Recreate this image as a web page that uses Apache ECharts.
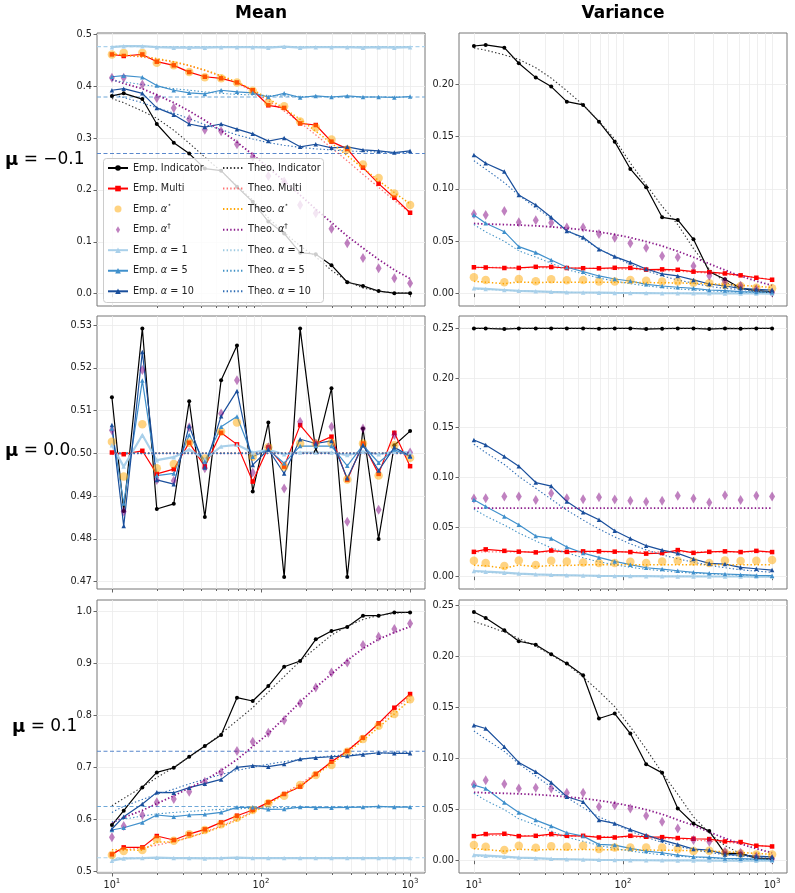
<!DOCTYPE html>
<html><head><meta charset="utf-8">
<script src="https://cdn.jsdelivr.net/npm/echarts@6/dist/echarts.min.js"></script>
<style>html,body{margin:0;padding:0;background:#fff}#c{width:795px;height:893px}</style>
</head><body><div id="c"></div><script>
// ---------------- data ----------------
const N = [10,12,16,20,26,33,42,54,69,88,112,143,183,233,297,379,483,615,784,1000];
const xMajorTicks = [10,100,1000];
const xMinorTicks = [20,30,40,50,60,70,80,90,200,300,400,500,600,700,800,900];
const tlYTicks = [0,0.1,0.2,0.3,0.4,0.5];
const trYTicks = [0,0.05,0.10,0.15,0.20];
const mlYTicks = [0.47,0.48,0.49,0.50,0.51,0.52,0.53];
const mrYTicks = [0,0.05,0.10,0.15,0.20,0.25];
const blYTicks = [0.5,0.6,0.7,0.8,0.9,1.0];
const brYTicks = [0,0.05,0.10,0.15,0.20,0.25];

// mu = -0.1, mean
const tlEmpInd  = [0.381,0.386,0.375,0.327,0.291,0.270,0.241,0.237,0.206,0.177,0.139,0.116,0.079,0.076,0.055,0.022,0.015,0.005,0.001,0.001];
const tlTheoInd = [0.376,0.368,0.352,0.338,0.315,0.290,0.263,0.236,0.208,0.180,0.146,0.118,0.092,0.071,0.045,0.024,0.011,0.005,0.002,0.001];
const tlEmpMulti  = [0.461,0.458,0.461,0.447,0.440,0.427,0.418,0.415,0.407,0.392,0.363,0.358,0.328,0.325,0.293,0.279,0.243,0.212,0.185,0.156];
const tlTheoMulti = [0.461,0.459,0.456,0.452,0.446,0.439,0.430,0.419,0.406,0.390,0.372,0.352,0.330,0.306,0.281,0.256,0.230,0.205,0.180,0.156];
const tlEmpStar  = [0.461,0.464,0.464,0.445,0.440,0.427,0.417,0.415,0.407,0.391,0.368,0.361,0.332,0.320,0.297,0.278,0.249,0.223,0.193,0.171];
const tlTheoStar = [0.462,0.460,0.457,0.453,0.447,0.440,0.431,0.420,0.408,0.393,0.376,0.357,0.336,0.313,0.290,0.266,0.242,0.218,0.195,0.173];
const tlEmpDag  = [0.416,0.416,0.403,0.377,0.358,0.336,0.316,0.313,0.288,0.264,0.227,0.216,0.171,0.155,0.125,0.097,0.069,0.049,0.030,0.020];
const tlTheoDag = [0.413,0.405,0.395,0.383,0.368,0.352,0.334,0.314,0.292,0.268,0.243,0.217,0.190,0.163,0.137,0.111,0.088,0.066,0.046,0.029];
const tlEmpA1  = [0.475,0.477,0.477,0.475,0.474,0.474,0.474,0.475,0.475,0.475,0.474,0.476,0.474,0.475,0.475,0.475,0.474,0.475,0.474,0.475];
const tlTheoA1 = [0.4765,0.4765,0.4764,0.4763,0.4763,0.4762,0.4762,0.4762,0.4762,0.4762,0.4762,0.4762,0.4762,0.4762,0.4762,0.4762,0.4762,0.4762,0.4762,0.4762];
const tlEmpA5  = [0.418,0.420,0.417,0.401,0.392,0.387,0.385,0.392,0.389,0.387,0.379,0.386,0.378,0.381,0.379,0.381,0.379,0.379,0.378,0.380];
const tlTheoA5 = [0.411,0.408,0.403,0.399,0.395,0.392,0.389,0.386,0.384,0.383,0.382,0.381,0.380,0.380,0.3795,0.379,0.379,0.379,0.379,0.379];
const tlEmpA10  = [0.392,0.395,0.386,0.358,0.345,0.327,0.321,0.327,0.317,0.308,0.294,0.300,0.283,0.288,0.281,0.283,0.277,0.275,0.272,0.275];
const tlTheoA10 = [0.385,0.378,0.368,0.358,0.348,0.337,0.326,0.316,0.306,0.298,0.291,0.286,0.282,0.279,0.277,0.275,0.274,0.273,0.272,0.272];
const tlAsym = [0.476,0.379,0.270];

// mu = -0.1, variance
const trEmpInd  = [0.2366,0.2376,0.2350,0.2201,0.2064,0.1978,0.1834,0.1803,0.1643,0.1452,0.1191,0.1016,0.0729,0.0704,0.0519,0.0210,0.0137,0.0051,0.0029,0.0019];
const trTheoInd = [0.2346,0.2326,0.2281,0.2238,0.2158,0.2059,0.1938,0.1803,0.1647,0.1476,0.1247,0.1041,0.0835,0.0660,0.0430,0.0234,0.0109,0.0050,0.0020,0.0010];
const trEmpMulti  = [0.0252,0.0250,0.0245,0.0246,0.0256,0.0255,0.0245,0.0243,0.0242,0.0247,0.0246,0.0230,0.0232,0.0228,0.0210,0.0205,0.0193,0.0175,0.0152,0.0133];
const trTheoMulti = [0.0250,0.0250,0.0250,0.0249,0.0248,0.0247,0.0245,0.0243,0.0240,0.0237,0.0233,0.0228,0.0222,0.0215,0.0206,0.0196,0.0184,0.0170,0.0153,0.0135];
const trEmpStar  = [0.0156,0.0131,0.0108,0.0140,0.0118,0.0137,0.0127,0.0131,0.0115,0.0115,0.0131,0.0124,0.0115,0.0115,0.0105,0.0099,0.0083,0.0073,0.0057,0.0051];
const trTheoStar = [0.0118,0.0110,0.0095,0.0112,0.0105,0.0110,0.0108,0.0110,0.0108,0.0108,0.0107,0.0106,0.0104,0.0102,0.0099,0.0094,0.0088,0.0080,0.0070,0.0060];
const trEmpDag  = [0.0761,0.0752,0.0790,0.0682,0.0701,0.0678,0.0631,0.0631,0.0570,0.0535,0.0481,0.0439,0.0360,0.0347,0.0264,0.0172,0.0115,0.0076,0.0041,0.0010];
const trTheoDag = [0.0670,0.0665,0.0660,0.0655,0.0648,0.0638,0.0625,0.0610,0.0590,0.0565,0.0535,0.0498,0.0455,0.0405,0.0348,0.0285,0.0225,0.0168,0.0120,0.0078];
const trEmpA1  = [0.0051,0.0045,0.0035,0.0027,0.0022,0.0017,0.0013,0.0011,0.0009,0.0007,0.0006,0.0005,0.0004,0.0004,0.0003,0.0003,0.0002,0.0002,0.0002,0.0001];
const trTheoA1 = [0.0045,0.0040,0.0032,0.0026,0.0021,0.0016,0.0013,0.0010,0.0008,0.0006,0.0005,0.0004,0.0003,0.0003,0.0002,0.0002,0.0002,0.0001,0.0001,0.0001];
const trEmpA5  = [0.0752,0.0672,0.0592,0.0449,0.0392,0.0322,0.0252,0.0210,0.0169,0.0140,0.0121,0.0089,0.0073,0.0061,0.0051,0.0035,0.0029,0.0019,0.0016,0.0013];
const trTheoA5 = [0.0660,0.0590,0.0500,0.0410,0.0350,0.0290,0.0230,0.0190,0.0150,0.0120,0.0095,0.0075,0.0058,0.0045,0.0035,0.0027,0.0020,0.0015,0.0012,0.0010];
const trEmpA10  = [0.1325,0.1245,0.1166,0.0943,0.0847,0.0729,0.0599,0.0538,0.0424,0.0354,0.0299,0.0236,0.0188,0.0169,0.0131,0.0092,0.0073,0.0051,0.0041,0.0035];
const trTheoA10 = [0.127,0.119,0.106,0.094,0.082,0.072,0.061,0.052,0.043,0.035,0.028,0.022,0.017,0.013,0.010,0.007,0.005,0.004,0.003,0.002];

// mu = 0.0, mean
const mlEmpInd   = [0.5131,0.4865,0.5292,0.4870,0.4882,0.5122,0.4851,0.5171,0.5252,0.4911,0.5072,0.4711,0.5292,0.5004,0.5152,0.4711,0.5058,0.4800,0.5019,0.5052];
const mlEmpMulti = [0.5002,0.4998,0.5006,0.4952,0.4963,0.5025,0.4969,0.5048,0.5021,0.4934,0.5014,0.4969,0.5066,0.5023,0.5039,0.4938,0.5023,0.4952,0.5048,0.4970];
const mlEmpStar  = [0.5027,0.4946,0.5068,0.4965,0.4975,0.5025,0.4988,0.5051,0.5072,0.4992,0.5014,0.4969,0.5023,0.5023,0.5025,0.4939,0.5023,0.4948,0.5019,0.4990];
const mlEmpDag   = [0.5054,0.4864,0.5195,0.4938,0.4936,0.5061,0.4965,0.5093,0.5171,0.4955,0.5014,0.4918,0.5074,0.5023,0.5062,0.4840,0.5058,0.4868,0.5043,0.5002];
const mlEmpA1    = [0.5019,0.4969,0.5043,0.4984,0.4991,0.5009,0.4986,0.5016,0.5020,0.5002,0.5008,0.4998,0.5002,0.5002,0.5002,0.4996,0.5004,0.4998,0.5004,0.5002];
const mlEmpA5    = [0.5058,0.4883,0.5170,0.4948,0.4953,0.5043,0.4981,0.5062,0.5086,0.4992,0.5009,0.4977,0.5017,0.5017,0.5017,0.4971,0.5019,0.4978,0.5009,0.4992];
const mlEmpA10   = [0.5066,0.4830,0.5237,0.4938,0.4928,0.5064,0.4967,0.5087,0.5146,0.4973,0.5009,0.4953,0.5033,0.5023,0.5029,0.4942,0.5019,0.4960,0.5014,0.4994];
const mlTheoAll  = [0.5,0.5,0.5,0.5,0.5,0.5,0.5,0.5,0.5,0.5,0.5,0.5,0.5,0.5,0.5,0.5,0.5,0.5,0.5,0.5];

// mu = 0.0, variance
const mrEmpInd  = [0.2500,0.2500,0.2493,0.2500,0.2500,0.2500,0.2500,0.2500,0.2497,0.2500,0.2500,0.2493,0.2497,0.2500,0.2500,0.2493,0.2500,0.2497,0.2500,0.2500];
const mrTheoInd = [0.25,0.25,0.25,0.25,0.25,0.25,0.25,0.25,0.25,0.25,0.25,0.25,0.25,0.25,0.25,0.25,0.25,0.25,0.25,0.25];
const mrEmpMulti  = [0.0250,0.0275,0.0260,0.0252,0.0245,0.0263,0.0250,0.0255,0.0255,0.0252,0.0248,0.0232,0.0238,0.0268,0.0240,0.0250,0.0255,0.0248,0.0260,0.0248];
const mrTheoMulti = [0.025,0.025,0.025,0.025,0.025,0.025,0.025,0.025,0.025,0.025,0.025,0.025,0.025,0.025,0.025,0.025,0.025,0.025,0.025,0.025];
const mrEmpStar  = [0.0161,0.0137,0.0107,0.0164,0.0117,0.0161,0.0154,0.0144,0.0137,0.0137,0.0151,0.0137,0.0154,0.0161,0.0154,0.0137,0.0164,0.0158,0.0161,0.0168];
const mrTheoStar = [0.0115,0.0110,0.0085,0.0118,0.0102,0.0112,0.0112,0.0120,0.0120,0.0120,0.0120,0.0120,0.0120,0.0120,0.0120,0.0120,0.0120,0.0120,0.0120,0.0120];
const mrEmpDag  = [0.0788,0.0791,0.0808,0.0808,0.0771,0.0841,0.0791,0.0781,0.0801,0.0777,0.0764,0.0754,0.0764,0.0814,0.0788,0.0747,0.0821,0.0771,0.0814,0.0808];
const mrTheoDag = [0.069,0.069,0.069,0.069,0.069,0.069,0.069,0.069,0.069,0.069,0.069,0.069,0.069,0.069,0.069,0.069,0.069,0.069,0.069,0.069];
const mrEmpA1  = [0.0057,0.0050,0.0040,0.0031,0.0024,0.0019,0.0015,0.0012,0.0009,0.0007,0.0006,0.0005,0.0004,0.0003,0.0003,0.0002,0.0002,0.0002,0.0001,0.0001];
const mrTheoA1 = [0.0050,0.0044,0.0035,0.0028,0.0022,0.0017,0.0013,0.0010,0.0008,0.0006,0.0005,0.0004,0.0003,0.0003,0.0002,0.0002,0.0002,0.0001,0.0001,0.0001];
const mrEmpA5  = [0.0774,0.0707,0.0607,0.0523,0.0409,0.0385,0.0298,0.0238,0.0194,0.0154,0.0121,0.0090,0.0077,0.0060,0.0044,0.0034,0.0027,0.0020,0.0013,0.0010];
const mrTheoA5 = [0.068,0.061,0.052,0.044,0.036,0.029,0.024,0.019,0.015,0.012,0.0095,0.0075,0.0059,0.0046,0.0036,0.0028,0.0022,0.0017,0.0013,0.0010];
const mrEmpA10  = [0.1377,0.1327,0.1210,0.1113,0.0948,0.0912,0.0757,0.0650,0.0573,0.0462,0.0385,0.0312,0.0268,0.0235,0.0178,0.0134,0.0127,0.0094,0.0080,0.0067];
const mrTheoA10 = [0.1334,0.125,0.113,0.101,0.089,0.078,0.067,0.057,0.048,0.040,0.033,0.027,0.022,0.018,0.0145,0.0115,0.009,0.007,0.0055,0.0045];

// mu = 0.1, mean
const blEmpInd  = [0.5887,0.6163,0.6613,0.6902,0.6992,0.7204,0.7410,0.7622,0.8342,0.8278,0.8567,0.8940,0.9049,0.9467,0.9627,0.9704,0.9923,0.9923,0.9987,0.9987];
const blTheoInd = [0.626,0.640,0.662,0.680,0.700,0.720,0.740,0.765,0.790,0.815,0.845,0.875,0.905,0.930,0.955,0.972,0.985,0.993,0.997,0.999];
const blEmpMulti  = [0.5321,0.5456,0.5456,0.5675,0.5598,0.5713,0.5803,0.5938,0.6067,0.6176,0.6324,0.6485,0.6626,0.6870,0.7108,0.7314,0.7571,0.7847,0.8149,0.8413];
const blTheoMulti = [0.536,0.540,0.545,0.550,0.557,0.565,0.575,0.587,0.600,0.615,0.632,0.650,0.668,0.688,0.710,0.733,0.757,0.783,0.810,0.838];
const blEmpStar  = [0.5308,0.5386,0.5405,0.5611,0.5585,0.5707,0.5791,0.5900,0.6028,0.6176,0.6305,0.6452,0.6658,0.6851,0.7044,0.7301,0.7545,0.7802,0.8027,0.8310];
const blTheoStar = [0.541,0.541,0.540,0.556,0.556,0.565,0.574,0.585,0.598,0.613,0.629,0.647,0.665,0.685,0.707,0.729,0.752,0.777,0.803,0.830];
const blEmpDag  = [0.5649,0.5868,0.6080,0.6324,0.6388,0.6530,0.6722,0.6902,0.7314,0.7494,0.7667,0.7905,0.8233,0.8541,0.8830,0.9023,0.9357,0.9518,0.9666,0.9775];
const blTheoDag = [0.593,0.603,0.617,0.630,0.645,0.660,0.675,0.694,0.715,0.740,0.765,0.795,0.826,0.854,0.880,0.906,0.929,0.947,0.960,0.971];
const blEmpA1  = [0.5200,0.5244,0.5250,0.5257,0.5250,0.5250,0.5244,0.5250,0.5257,0.5250,0.5250,0.5250,0.5250,0.5250,0.5250,0.5250,0.5250,0.5250,0.5250,0.5250];
const blTheoA1 = [0.5235,0.5238,0.5242,0.5245,0.5247,0.5248,0.5249,0.5250,0.5250,0.5250,0.5250,0.5250,0.5250,0.5250,0.5250,0.5250,0.5250,0.5250,0.5250,0.5250];
const blEmpA5  = [0.5791,0.5835,0.5938,0.6080,0.6048,0.6080,0.6093,0.6131,0.6228,0.6228,0.6189,0.6195,0.6234,0.6221,0.6221,0.6228,0.6234,0.6247,0.6234,0.6234];
const blTheoA5 = [0.595,0.600,0.606,0.610,0.613,0.615,0.617,0.619,0.620,0.621,0.622,0.6225,0.623,0.623,0.623,0.6235,0.6235,0.624,0.624,0.624];
const blEmpA10  = [0.5810,0.6048,0.6292,0.6517,0.6510,0.6607,0.6684,0.6767,0.6999,0.7031,0.7012,0.7063,0.7159,0.7185,0.7204,0.7217,0.7249,0.7281,0.7269,0.7269];
const blTheoA10 = [0.613,0.625,0.638,0.648,0.658,0.668,0.677,0.686,0.694,0.700,0.706,0.711,0.715,0.719,0.722,0.724,0.726,0.727,0.728,0.729];
const blAsym = [0.5255,0.6245,0.731];

// mu = 0.1, variance
const brEmpInd  = [0.2435,0.2376,0.2256,0.2148,0.2115,0.2021,0.1930,0.1815,0.1392,0.1441,0.1245,0.0945,0.0860,0.0512,0.0365,0.0290,0.0072,0.0072,0.0026,0.0023];
const brTheoInd = [0.2341,0.2304,0.2238,0.2176,0.2100,0.2016,0.1924,0.1798,0.1659,0.1508,0.1310,0.1094,0.0860,0.0651,0.0430,0.0272,0.0148,0.0070,0.0030,0.0010];
const brEmpMulti  = [0.0241,0.0261,0.0264,0.0241,0.0244,0.0261,0.0244,0.0244,0.0228,0.0228,0.0244,0.0235,0.0231,0.0222,0.0215,0.0212,0.0189,0.0183,0.0147,0.0140];
const brTheoMulti = [0.0248,0.0248,0.0247,0.0246,0.0245,0.0244,0.0242,0.0240,0.0237,0.0234,0.0230,0.0225,0.0219,0.0212,0.0203,0.0193,0.0181,0.0167,0.0152,0.0135];
const brEmpStar  = [0.0153,0.0137,0.0104,0.0147,0.0127,0.0143,0.0137,0.0147,0.0114,0.0130,0.0130,0.0130,0.0130,0.0114,0.0095,0.0098,0.0078,0.0072,0.0062,0.0062];
const brTheoStar = [0.0118,0.0110,0.0093,0.0112,0.0106,0.0110,0.0108,0.0110,0.0108,0.0107,0.0106,0.0105,0.0103,0.0101,0.0098,0.0094,0.0088,0.0081,0.0072,0.0063];
const brEmpDag  = [0.0746,0.0789,0.0750,0.0707,0.0714,0.0707,0.0665,0.0665,0.0528,0.0544,0.0512,0.0440,0.0381,0.0316,0.0202,0.0186,0.0088,0.0078,0.0039,0.0016];
const brTheoDag = [0.0670,0.0665,0.0660,0.0655,0.0648,0.0638,0.0625,0.0610,0.0590,0.0565,0.0535,0.0500,0.0455,0.0400,0.0345,0.0280,0.0220,0.0165,0.0118,0.0078];
const brEmpA1  = [0.0055,0.0050,0.0040,0.0031,0.0025,0.0019,0.0015,0.0012,0.0009,0.0007,0.0006,0.0005,0.0004,0.0003,0.0003,0.0002,0.0002,0.0002,0.0001,0.0001];
const brTheoA1 = [0.0045,0.0040,0.0032,0.0026,0.0021,0.0016,0.0013,0.0010,0.0008,0.0006,0.0005,0.0004,0.0003,0.0003,0.0002,0.0002,0.0002,0.0001,0.0001,0.0001];
const brEmpA5  = [0.0740,0.0707,0.0570,0.0473,0.0398,0.0339,0.0274,0.0241,0.0160,0.0153,0.0121,0.0095,0.0078,0.0055,0.0039,0.0033,0.0023,0.0020,0.0016,0.0013];
const brTheoA5 = [0.0660,0.0590,0.0500,0.0410,0.0350,0.0290,0.0230,0.0190,0.0150,0.0120,0.0095,0.0075,0.0058,0.0045,0.0035,0.0027,0.0020,0.0015,0.0012,0.0010];
const brEmpA10  = [0.1327,0.1294,0.1115,0.0962,0.0870,0.0766,0.0626,0.0577,0.0398,0.0365,0.0306,0.0251,0.0202,0.0160,0.0114,0.0104,0.0062,0.0055,0.0046,0.0039];
const brTheoA10 = [0.127,0.119,0.107,0.095,0.083,0.072,0.062,0.052,0.043,0.036,0.029,0.023,0.018,0.014,0.011,0.008,0.006,0.0045,0.0035,0.0025];

// ---------------- styling / layout ----------------
const FONT = 'DejaVu Sans';
const methods = [
  {emp:'Emp. Indicator', theo:'Theo. Indicator', kind:'line', color:'#000000', symbol:'circle', size:4, lw:1.2, tc:'#333333', tw:1.1},
  {emp:'Emp. Multi', theo:'Theo. Multi', kind:'line', color:'#ff0000', symbol:'rect', size:4.5, lw:1.2, tc:'rgba(255,0,0,0.55)', tw:1.3},
  {emp:'Emp. α⋆', theo:'Theo. α⋆', kind:'scatter', color:'rgba(255,165,0,0.62)', symbol:'circle', size:8.5, tc:'#ffa500', tw:1.5},
  {emp:'Emp. α†', theo:'Theo. α†', kind:'scatter', color:'rgba(128,0,128,0.62)', symbol:'diamond', size:[6,10], tc:'#8b1a8b', tw:1.8,
   legendIcon:'path://M3,0L6,5L3,10L0,5Z'},
  {emp:'Emp. α = 1', theo:'Theo. α = 1', kind:'line', color:'#a9d0ea', symbol:'triangle', size:4.5, lw:2.2, tc:'#9ecae1', tw:1.1},
  {emp:'Emp. α = 5', theo:'Theo. α = 5', kind:'line', color:'#4090cc', symbol:'triangle', size:4.5, lw:1.2, tc:'#4292c6', tw:1.1},
  {emp:'Emp. α = 10', theo:'Theo. α = 10', kind:'line', color:'#1a4f9c', symbol:'triangle', size:4.5, lw:1.2, tc:'#2f6db5', tw:1.1}
];
const asymColors = ['#acd2ec','#6fa8d8','#5a88cc'];

const panels = [
  {row:0,col:0,min:-0.0237,max:0.5023,ticks:tlYTicks,dec:1,
   emp:[tlEmpInd,tlEmpMulti,tlEmpStar,tlEmpDag,tlEmpA1,tlEmpA5,tlEmpA10],
   theo:[tlTheoInd,tlTheoMulti,tlTheoStar,tlTheoDag,tlTheoA1,tlTheoA5,tlTheoA10],asym:tlAsym},
  {row:0,col:1,min:-0.0118,max:0.249,ticks:trYTicks,dec:2,
   emp:[trEmpInd,trEmpMulti,trEmpStar,trEmpDag,trEmpA1,trEmpA5,trEmpA10],
   theo:[trTheoInd,trTheoMulti,trTheoStar,trTheoDag,trTheoA1,trTheoA5,trTheoA10]},
  {row:1,col:0,min:0.4683,max:0.5321,ticks:mlYTicks,dec:2,
   emp:[mlEmpInd,mlEmpMulti,mlEmpStar,mlEmpDag,mlEmpA1,mlEmpA5,mlEmpA10],
   theo:[mlTheoAll,mlTheoAll,mlTheoAll,mlTheoAll,mlTheoAll,mlTheoAll,mlTheoAll]},
  {row:1,col:1,min:-0.0124,max:0.2625,ticks:mrYTicks,dec:2,
   emp:[mrEmpInd,mrEmpMulti,mrEmpStar,mrEmpDag,mrEmpA1,mrEmpA5,mrEmpA10],
   theo:[mrTheoInd,mrTheoMulti,mrTheoStar,mrTheoDag,mrTheoA1,mrTheoA5,mrTheoA10]},
  {row:2,col:0,min:0.4962,max:1.0226,ticks:blYTicks,dec:1,
   emp:[blEmpInd,blEmpMulti,blEmpStar,blEmpDag,blEmpA1,blEmpA5,blEmpA10],
   theo:[blTheoInd,blTheoMulti,blTheoStar,blTheoDag,blTheoA1,blTheoA5,blTheoA10],asym:blAsym},
  {row:2,col:1,min:-0.012,max:0.2552,ticks:brYTicks,dec:2,
   emp:[brEmpInd,brEmpMulti,brEmpStar,brEmpDag,brEmpA1,brEmpA5,brEmpA10],
   theo:[brTheoInd,brTheoMulti,brTheoStar,brTheoDag,brTheoA1,brTheoA5,brTheoA10]}
];

const gridLefts = [97, 459], gridTops = [33, 316, 600], GW = 328, GH = 273;
const XMIN = 0.9, XMAX = 3.1;
const gridLine = {show:true, lineStyle:{color:'#ebebeb', width:0.8}};
const tickCol = '#666';

const grids = [], xAxes = [], yAxes = [], series = [];
panels.forEach((p, g) => {
  grids.push({left:gridLefts[p.col], top:gridTops[p.row], width:GW, height:GH,
    show:true, borderColor:'#777', borderWidth:1, backgroundColor:'rgba(0,0,0,0)'});
  const bottom = p.row === 2;
  xAxes.push({gridIndex:g, type:'value', position:'bottom', min:XMIN, max:XMAX,
    axisLine:{show:false},
    axisTick:{show:true, length:3.5, lineStyle:{color:tickCol}, customValues:xMajorTicks.map(Math.log10)},
    axisLabel:{show:bottom, customValues:xMajorTicks.map(Math.log10), fontFamily:FONT, fontSize:9.7, color:'#222', margin:5,
      formatter:v => '10{s|' + Math.round(v) + '}',
      rich:{s:{fontSize:7, fontFamily:FONT, color:'#222', verticalAlign:'top', lineHeight:14}}},
    splitLine:gridLine});
  xAxes.push({gridIndex:g, type:'value', position:'bottom', min:XMIN, max:XMAX,
    axisLine:{show:false},
    axisTick:{show:true, length:2, lineStyle:{color:tickCol}, customValues:xMinorTicks.map(Math.log10)},
    axisLabel:{show:false, customValues:xMinorTicks.map(Math.log10)},
    splitLine:gridLine});
  yAxes.push({gridIndex:g, type:'value', min:p.min, max:p.max,
    axisLine:{show:false},
    axisTick:{show:true, length:3.5, lineStyle:{color:tickCol}, customValues:p.ticks},
    axisLabel:{customValues:p.ticks, fontFamily:FONT, fontSize:9.7, color:'#222', margin:5,
      formatter:v => v.toFixed(p.dec)},
    splitLine:gridLine});
  const xi = 2 * g;
  // asymptotes: dashed horizontal reference lines spanning the full x range of the axis
  if (p.asym) {
    p.asym.forEach((v, j) => {
      const c = asymColors[j];
      series.push({type:'line', xAxisIndex:xi, yAxisIndex:g, silent:true, color:c,
        data:[[XMIN, v], [XMAX, v]], symbol:'none', emphasis:{disabled:true}, z:1,
        itemStyle:{color:c}, lineStyle:{color:c, width:1.1, type:[4, 2.5]}});
    });
  }
  methods.forEach((m, k) => {
    const arr = p.emp[k];
    const s = {name:m.emp, type:m.kind, xAxisIndex:xi, yAxisIndex:g, silent:true, color:m.color,
      data:N.map((n, i) => [Math.log10(n), arr[i]]),
      symbol:m.symbol, symbolSize:m.size, itemStyle:{color:m.color}, emphasis:{disabled:true}, z:2};
    if (m.kind === 'line') {
      s.lineStyle = {color:m.color, width:m.lw};
      s.showSymbol = true;
    }
    series.push(s);
  });
  methods.forEach((m, k) => {
    const arr = p.theo[k];
    const s = {name:m.theo, type:'line', xAxisIndex:xi, yAxisIndex:g, silent:true, color:m.tc,
      data:N.map((n, i) => [Math.log10(n), arr[i]]),
      symbol:'none', itemStyle:{color:m.tc}, emphasis:{disabled:true}, z:2,
      lineStyle:{color:m.tc, width:m.tw, type:[1.4, 2.2]}};
    series.push(s);
  });
});

function fmtName(n) {
  return n.replace('α⋆', '{i|α}{s|⋆}').replace('α†', '{i|α}{s|†}').replace(/α = (\d+)/, '{i|α} = $1');
}
const legendRich = {
  i:{fontStyle:'italic', fontFamily:FONT, fontSize:9.7, color:'#222', lineHeight:14},
  s:{fontFamily:FONT, fontSize:7, color:'#222', lineHeight:14, verticalAlign:'top'}
};
const legendBase = {orient:'vertical', top:161, itemWidth:20, itemHeight:7, itemGap:6.55, padding:0,
  selectedMode:false, formatter:fmtName, z:6,
  textStyle:{fontFamily:FONT, fontSize:9.7, color:'#222', lineHeight:14, rich:legendRich}};

const option = {
  animation:false,
  backgroundColor:'#ffffff',
  grid:grids, xAxis:xAxes, yAxis:yAxes, series:series,
  legend:[
    Object.assign({}, legendBase, {left:107, data:methods.map(m => m.legendIcon ? {name:m.emp, icon:m.legendIcon} : {name:m.emp})}),
    Object.assign({}, legendBase, {left:222, data:methods.map(m => ({name:m.theo, itemStyle:{color:'rgba(0,0,0,0)', borderWidth:0}}))})
  ],
  graphic:[
    {type:'rect', left:103, top:158, z:5, silent:true, shape:{width:220, height:144, r:3},
     style:{fill:'rgba(255,255,255,0.8)', stroke:'#cccccc', lineWidth:1}},
    {type:'text', x:261, y:14, silent:true, style:{text:'Mean', fontFamily:FONT, fontWeight:'bold', fontSize:17, fill:'#000', align:'center', verticalAlign:'middle'}},
    {type:'text', x:623, y:14, silent:true, style:{text:'Variance', fontFamily:FONT, fontWeight:'bold', fontSize:17, fill:'#000', align:'center', verticalAlign:'middle'}},
    {type:'text', x:5, y:160, silent:true, style:{text:'{b|μ} = −0.1', fontFamily:FONT, fontSize:17, fill:'#000', verticalAlign:'middle',
      rich:{b:{fontFamily:FONT, fontWeight:'bold', fontSize:18, fill:'#000'}}}},
    {type:'text', x:5, y:451, silent:true, style:{text:'{b|μ} = 0.0', fontFamily:FONT, fontSize:17, fill:'#000', verticalAlign:'middle',
      rich:{b:{fontFamily:FONT, fontWeight:'bold', fontSize:18, fill:'#000'}}}},
    {type:'text', x:12, y:727, silent:true, style:{text:'{b|μ} = 0.1', fontFamily:FONT, fontSize:17, fill:'#000', verticalAlign:'middle',
      rich:{b:{fontFamily:FONT, fontWeight:'bold', fontSize:18, fill:'#000'}}}}
  ]
};
const chart = echarts.init(document.getElementById('c'), null, {renderer:'canvas'});
chart.setOption(option);
</script></body></html>
